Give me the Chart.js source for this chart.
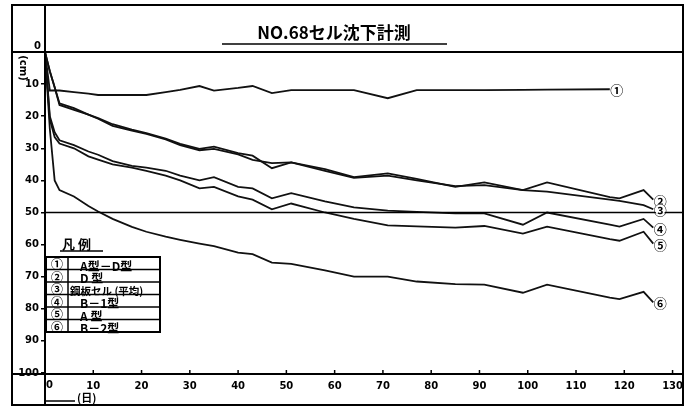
<!DOCTYPE html>
<html>
<head>
<meta charset="utf-8">
<script src="https://cdn.jsdelivr.net/npm/chart.js@4.4.1/dist/chart.umd.min.js"></script>
<style>
  html, body { margin: 0; padding: 0; background: #fff; }
  #wrap { width: 690px; height: 408px; }
</style>
</head>
<body>
<div id="wrap"><canvas id="settle" width="690" height="408"></canvas></div>
<script>
const chartTitle = 'NO.68セル沈下計測';
const legendTitle = '凡 例';
const yUnit = '(cm)';
const xUnit = '(日)';

// elapsed days (x) and settlement in cm (y)
const days = [0, 1, 2, 3, 6, 9, 11, 14, 18, 21, 25, 28, 32, 35, 40, 43, 47, 51, 58, 64, 71, 77, 85, 91, 99, 104, 117, 119, 124, 126];
const seriesMarks = ['①', '②', '③', '④', '⑤', '⑥'];
const seriesNames = ['A型－D型', 'D 型', '鋼板セル (平均)', 'B－1型', 'A 型', 'B－2型'];

const typeAD  = [0, 12, 12, 12, 12.5, 13, 13.4, 13.4, 13.4, 13.4, 12.5, 11.8, 10.6, 12, 11.2, 10.6, 12.8, 11.9, 11.9, 11.9, 14.4, 11.9, 11.9, 11.9, 11.8, 11.7, 11.6, null, null, null];
const typeD   = [0, 6, 11, 16.5, 18, 19.5, 20.6, 22.5, 24.2, 25.3, 27, 28.6, 30.2, 29.5, 31.5, 32.3, 36.2, 34.4, 36.5, 39, 37.8, 39.5, 42, 40.6, 43, 40.6, 45.2, 45.6, 43, 46];
const steelAv = [0, 6, 11, 16, 17.5, 19.5, 20.8, 23, 24.5, 25.5, 27.2, 29, 30.6, 30.2, 31.9, 33.6, 34.6, 34.4, 37, 39.2, 38.5, 40, 41.8, 41.5, 43, 43.5, 46, 46.4, 47.7, 49];
const typeB1  = [0, 20, 25, 27.5, 29, 31, 32, 34, 35.5, 36, 37, 38.5, 40, 39, 42, 42.5, 45.6, 44, 46.5, 48.4, 49.4, 49.8, 50.3, 50.3, 53.8, 50, 53.8, 54.4, 52, 54.7];
const typeA   = [0, 21, 26.5, 28.5, 30, 32.5, 33.5, 35, 36, 37, 38.5, 40, 42.5, 42, 45, 46, 49, 47.2, 50, 52, 54, 54.3, 54.7, 54.2, 56.6, 54.4, 58.3, 58.8, 56, 59.7];
const typeB2  = [0, 24, 40, 43, 45, 48, 49.7, 52, 54.5, 56, 57.5, 58.5, 59.7, 60.5, 62.5, 63, 65.6, 66, 68, 70, 70, 71.5, 72.3, 72.5, 75, 72.5, 76.5, 77, 74.7, 78];

const allSeries = [typeAD, typeD, steelAv, typeB1, typeA, typeB2];
const referenceLevel = 50;

const tickFont = { family: 'DejaVu Sans', weight: 'bold', size: 10 };
const jpFont = '"Noto Sans CJK JP", sans-serif';

function toPoints(vals) {
    return days.map((d, i) => ({ x: d, y: vals[i] })).filter(p => p.y !== null);
}

const framePlugin = {
    id: 'frame',
    afterDraw(chart) {
        const { ctx, chartArea: a, scales: { x, y } } = chart;
        const line = (x1, y1, x2, y2) => { ctx.beginPath(); ctx.moveTo(x1, y1); ctx.lineTo(x2, y2); ctx.stroke(); };
        ctx.save();
        ctx.strokeStyle = '#000';
        ctx.fillStyle = '#000';

        // 50 cm reference line
        ctx.lineWidth = 1.3;
        const yRef = y.getPixelForValue(referenceLevel);
        line(a.left, yRef, 683, yRef);

        // outer frame and dividers
        ctx.lineWidth = 2;
        ctx.strokeRect(12, 5, 671, 400);
        line(12, a.top, 683, a.top);
        line(12, a.bottom + 1, 683, a.bottom + 1);
        line(a.left, 5, a.left, 405);

        // short x ticks standing on the axis
        ctx.lineWidth = 1.5;
        for (let v = 10; v <= 130; v += 10) {
            const px = x.getPixelForValue(v);
            line(px, a.bottom + 1, px, a.bottom - 3);
        }

        // the two zero labels sit off the axis lines
        ctx.font = 'bold 10px "DejaVu Sans"';
        ctx.textBaseline = 'middle';
        ctx.textAlign = 'right';
        ctx.fillText('0', a.left - 4, y.getPixelForValue(0) - 6);
        ctx.textAlign = 'left';
        ctx.fillText('0', x.getPixelForValue(0) + 1, a.bottom + 12);

        // title
        ctx.font = 'bold 17px ' + jpFont;
        ctx.textAlign = 'center';
        ctx.textBaseline = 'alphabetic';
        ctx.fillText(chartTitle, 334, 39);
        ctx.lineWidth = 1.5;
        line(222, 44, 447, 44);

        // axis units
        ctx.save();
        ctx.translate(23, 68);
        ctx.rotate(Math.PI / 2);
        ctx.font = 'bold 10px "DejaVu Sans"';
        ctx.textAlign = 'center';
        ctx.textBaseline = 'middle';
        ctx.fillText(yUnit, 0, 0);
        ctx.restore();

        ctx.font = 'bold 11px ' + jpFont;
        ctx.textAlign = 'left';
        ctx.textBaseline = 'middle';
        ctx.fillText(xUnit, 77, 398);
        line(45, 401, 75, 401);

        // legend table
        ctx.font = 'bold 13px ' + jpFont;
        ctx.textAlign = 'left';
        ctx.fillText(legendTitle, 62, 244);
        line(60, 251, 103, 251);

        const tx = 46, ty = 257, tw = 114, rh = 12.5, cw = 22;
        ctx.fillStyle = '#fff';
        ctx.fillRect(tx, ty, tw, rh * 6);
        ctx.fillStyle = '#000';
        ctx.lineWidth = 2;
        ctx.strokeRect(tx, ty, tw, rh * 6);
        ctx.lineWidth = 1.5;
        for (let i = 1; i < 6; i++) line(tx, ty + i * rh, tx + tw, ty + i * rh);
        line(tx + cw, ty, tx + cw, ty + rh * 6);
        seriesNames.forEach((name, i) => {
            const cy = ty + i * rh + rh / 2 + 1.5;
            ctx.font = 'bold 12px ' + jpFont;
            ctx.textAlign = 'center';
            ctx.fillText(seriesMarks[i], tx + cw / 2, cy);
            ctx.textAlign = 'left';
            const w = ctx.measureText(name).width;
            if (w > tw - cw - 14) {
                ctx.font = 'bold 10.5px ' + jpFont;
                ctx.fillText(name, tx + cw + 2, cy + 1, tw - cw - 4);
            } else {
                ctx.fillText(name, tx + cw + 12, cy + 1.5);
            }
        });

        // circled numbers at the end of each curve
        chart.data.datasets.forEach((ds, i) => {
            const last = ds.data[ds.data.length - 1];
            const cx = x.getPixelForValue(last.x) + 7;
            const cy = y.getPixelForValue(last.y);
            ctx.fillStyle = '#fff';
            ctx.beginPath();
            ctx.arc(cx, cy, 5.5, 0, Math.PI * 2);
            ctx.fill();
            ctx.fillStyle = '#000';
            ctx.font = 'bold 13px ' + jpFont;
            ctx.textAlign = 'center';
            ctx.textBaseline = 'middle';
            ctx.fillText(seriesMarks[i], cx, cy + 1);
        });
        ctx.restore();
    }
};

new Chart(document.getElementById('settle'), {
    type: 'line',
    data: {
        datasets: allSeries.map((vals, i) => ({
            label: seriesNames[i],
            data: toPoints(vals),
            borderColor: '#111',
            borderWidth: 1.8,
            pointRadius: 0,
            tension: 0,
            fill: false
        }))
    },
    options: {
        responsive: false,
        animation: false,
        devicePixelRatio: 1,
        layout: { padding: { left: 12, right: 10, top: 52, bottom: 0 } },
        plugins: { legend: { display: false }, tooltip: { enabled: false } },
        scales: {
            x: {
                type: 'linear',
                min: 0,
                max: 130,
                ticks: { stepSize: 10, color: '#000', font: tickFont, padding: 7, maxRotation: 0,
                         callback: v => (v === 0 ? '' : v) },
                grid: { display: false, drawTicks: false, tickLength: 0 },
                border: { display: false },
                afterFit: s => { s.height = 35; }
            },
            y: {
                min: 0,
                max: 100,
                reverse: true,
                ticks: { stepSize: 10, color: '#000', font: tickFont, padding: 2,
                         callback: v => (v === 0 ? '' : v) },
                grid: { drawOnChartArea: false, tickLength: 4, color: '#000', lineWidth: 1.5 },
                border: { display: false },
                afterFit: s => { s.width = 33; }
            }
        }
    },
    plugins: [framePlugin]
});
</script>
</body>
</html>
